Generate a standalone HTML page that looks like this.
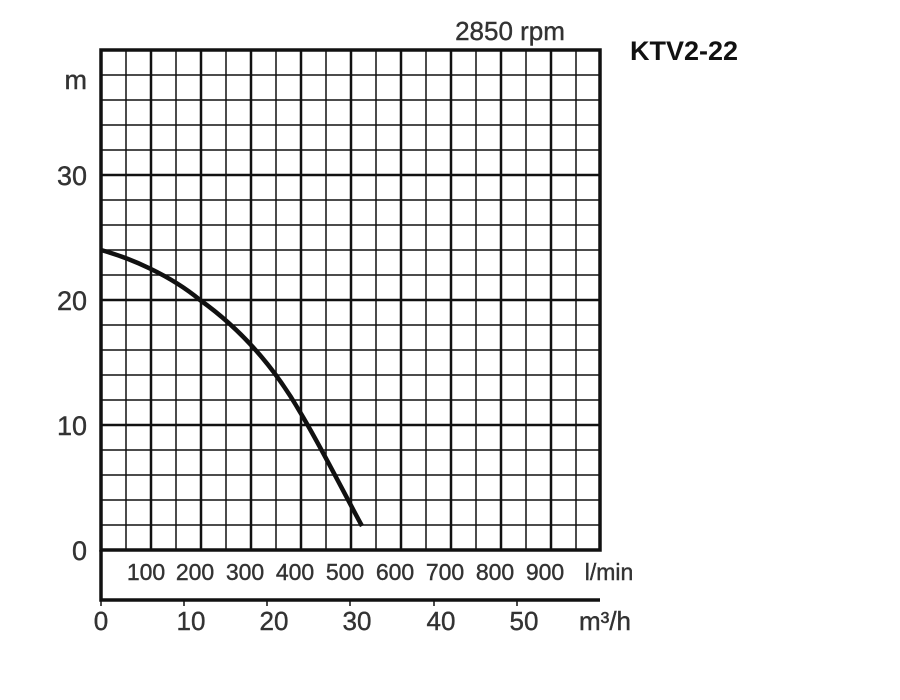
<!DOCTYPE html>
<html><head><meta charset="utf-8"><style>html,body{margin:0;padding:0;background:#fff}svg{display:block}</style></head>
<body>
<svg width="900" height="700" viewBox="0 0 900 700" xmlns="http://www.w3.org/2000/svg" font-family="Liberation Sans, sans-serif">
<rect width="900" height="700" fill="#fff"/>
<g stroke="#111" fill="none">
<g stroke-width="1.5">
<path d="M126 50V550M176 50V550M226 50V550M276 50V550M326 50V550M376 50V550M426 50V550M476 50V550M526 50V550M576 50V550"/>
<path d="M101 75H600M101 100H600M101 125H600M101 150H600M101 200H600M101 225H600M101 250H600M101 275H600M101 325H600M101 350H600M101 375H600M101 400H600M101 450H600M101 475H600M101 500H600M101 525H600"/>
</g>
<g stroke-width="2.5">
<path d="M151 50V550M201 50V550M251 50V550M301 50V550M351 50V550M401 50V550M451 50V550M501 50V550M551 50V550"/>
<path d="M101 175H600M101 300H600M101 425H600"/>
</g>
<rect x="101" y="50" width="499" height="500" stroke-width="3.5"/>
<path d="M101 550V600H600" stroke-width="3.5"/>
<path d="M101 600V606M184 600V606M267 600V606M350 600V606M434 600V606M517 600V606" stroke-width="1.5"/>
<path d="M101 250 C130 258,170 275,200 300 C235 325,270 360,300 412 C320 445,345 495,362 526" stroke-width="4.5"/>
</g>
<g fill="#333" stroke="#333" stroke-width="0.4">
<g font-size="27" text-anchor="end">
<text x="87" y="89">m</text>
<text x="87" y="185">30</text>
<text x="87" y="310">20</text>
<text x="87" y="435">10</text>
<text x="87" y="560">0</text>
</g>
<g font-size="23" text-anchor="middle">
<text x="146" y="580">100</text><text x="195" y="580">200</text><text x="245" y="580">300</text><text x="295" y="580">400</text><text x="345" y="580">500</text><text x="395" y="580">600</text><text x="445" y="580">700</text><text x="495" y="580">800</text><text x="545" y="580">900</text>
<text x="609" y="580">l/min</text>
</g>
<g font-size="26" text-anchor="middle">
<text x="101" y="630">0</text><text x="191" y="630">10</text><text x="274" y="630">20</text><text x="357" y="630">30</text><text x="441" y="630">40</text><text x="524" y="630">50</text>
<text x="605" y="630">m³/h</text>
</g>
<text x="510" y="40" font-size="26" text-anchor="middle">2850 rpm</text>
</g>
<text x="630" y="60" font-size="27" font-weight="bold" fill="#111">KTV2-22</text>
</svg>
</body></html>
